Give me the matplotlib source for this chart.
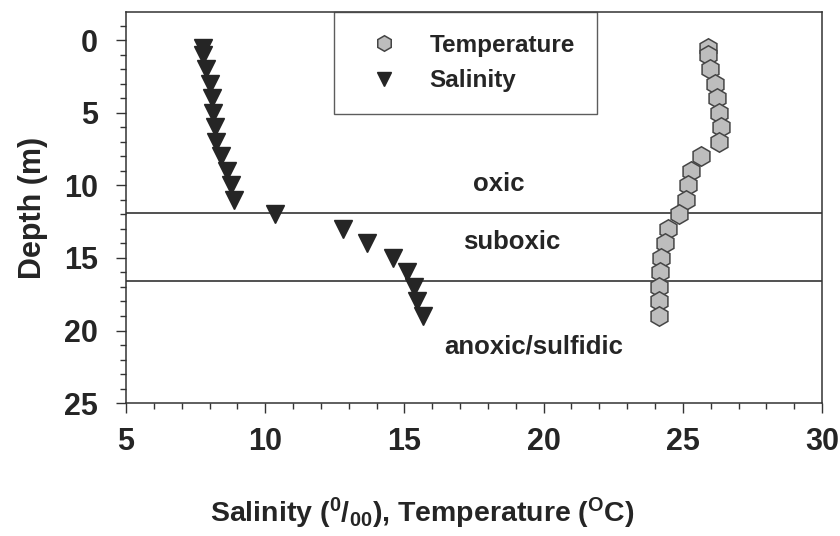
import numpy as np
import matplotlib
matplotlib.use('Agg')
import matplotlib.pyplot as plt
from matplotlib.ticker import MultipleLocator

plt.rcParams['font.family'] = ['Liberation Sans', 'DejaVu Sans']
plt.rcParams['font.weight'] = 'bold'
plt.rcParams['mathtext.fontset'] = 'custom'
plt.rcParams['mathtext.rm'] = 'Liberation Sans:bold'
plt.rcParams['mathtext.it'] = 'Liberation Sans:bold'
plt.rcParams['mathtext.bf'] = 'Liberation Sans:bold'

# depth profiles (m)
depth = [0.5, 1, 2, 3, 4, 5, 6, 7, 8, 9, 10, 11, 12, 13, 14, 15, 16, 17, 18, 19]
salinity = [7.75, 7.78, 7.87, 8.03, 8.09, 8.13, 8.18, 8.25, 8.41, 8.62, 8.76, 8.89,
            10.35, 12.78, 13.64, 14.6, 15.1, 15.34, 15.44, 15.66]
temperature = [25.9, 25.9, 25.98, 26.16, 26.24, 26.31, 26.36, 26.3, 25.64, 25.28,
               25.2, 25.11, 24.86, 24.46, 24.36, 24.22, 24.18, 24.16, 24.14, 24.14]

# redox boundaries
boundaries = [11.9, 16.6]
zones = [('oxic', 18.4, 9.9), ('suboxic', 18.85, 13.9), ('anoxic/sulfidic', 19.65, 21.1)]

ink = '#252525'

fig = plt.figure(figsize=(8.4, 5.36), dpi=100)
ax = fig.add_axes([0.15, 0.248, 0.8286, 0.7296])

ax.plot(temperature, depth, linestyle='none', marker='h', ms=14,
        mfc='#bdbdbd', mec='#454545', mew=1.1, label='Temperature', zorder=3)
ax.plot(salinity, depth, linestyle='none', marker='v', ms=13,
        mfc=ink, mec=ink, label='Salinity', zorder=3)

for b in boundaries:
    ax.axhline(b, color='#333333', lw=1.2, zorder=2)

for name, x, y in zones:
    ax.text(x, y, name, ha='center', va='center', fontsize=18.5, fontweight='bold', color=ink)

ax.set_xlim(5, 30)
ax.set_ylim(25, -1.95)
ax.xaxis.set_major_locator(MultipleLocator(5))
ax.xaxis.set_minor_locator(MultipleLocator(1))
ax.yaxis.set_major_locator(MultipleLocator(5))
ax.yaxis.set_minor_locator(MultipleLocator(1))
ax.tick_params(which='major', direction='out', length=7, width=1, color='#333333',
               labelsize=22, labelcolor=ink)
ax.tick_params(axis='x', which='major', pad=10)
ax.tick_params(axis='y', which='major', pad=13)
ax.tick_params(which='minor', direction='out', length=4, width=1, color='#333333')
for lab in ax.get_xticklabels() + ax.get_yticklabels():
    lab.set_fontweight('bold')
for s in ax.spines.values():
    s.set_color('#333333')
    s.set_linewidth(1.1)

ax.set_ylabel('Depth (m)', fontsize=22, fontweight='bold', color=ink, labelpad=12)
ax.set_xlabel(r'Salinity ($^{0}$/$_{00}$), Temperature ($^{O}$C)', fontsize=20.5,
              fontweight='bold', color=ink)
ax.xaxis.set_label_coords(0.425, -0.238)

leg = ax.legend(loc='upper left', bbox_to_anchor=(0.2995, 1.0), fontsize=17.5,
                frameon=True, fancybox=False, borderpad=0.9, labelspacing=0.5,
                handletextpad=0.7, handlelength=2.3, borderaxespad=0, markerscale=0.8)
leg.get_frame().set_edgecolor('#333333')
leg.get_frame().set_linewidth(1.0)
for t in leg.get_texts():
    t.set_color(ink)
    t.set_fontweight('bold')

fig.savefig('out.png', dpi=100)
